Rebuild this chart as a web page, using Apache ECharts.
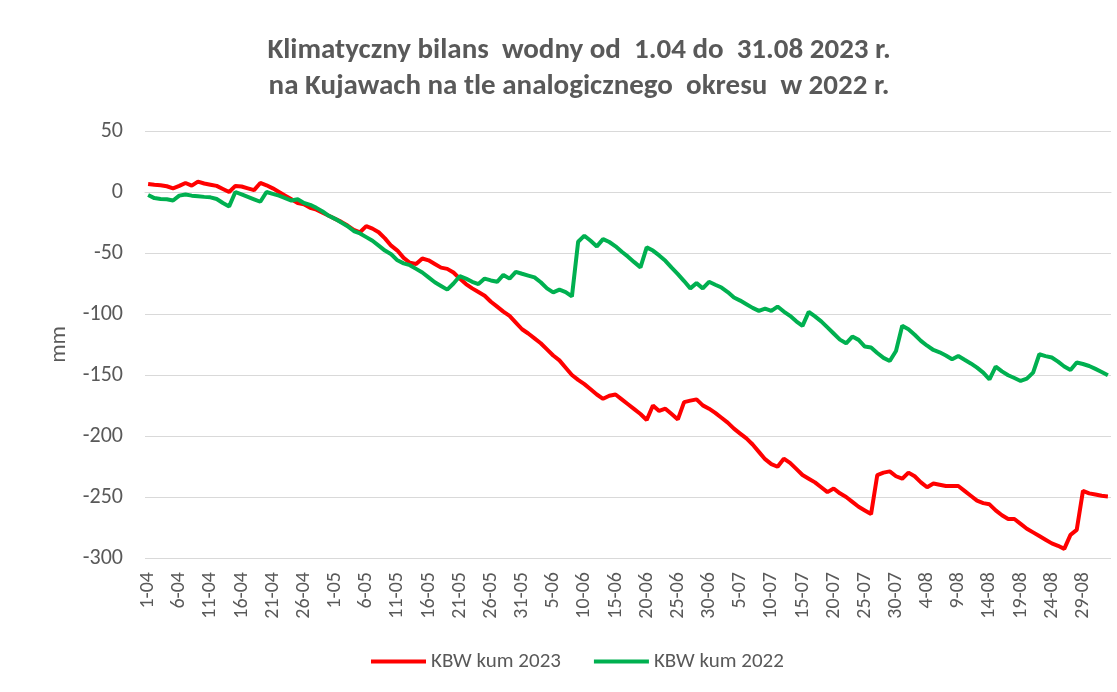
<!DOCTYPE html>
<html>
<head>
<meta charset="utf-8">
<script src="https://cdn.jsdelivr.net/npm/echarts@6/dist/echarts.min.js"></script>
<style>
html,body{margin:0;padding:0;background:#fff;}
#chart{width:1117px;height:692px;}
</style>
</head>
<body>
<div id="chart"></div>
<script>
// Categories: daily dates starting 1-04
const monthDays = [[4,30],[5,31],[6,30],[7,31],[8,31],[9,2]];
const categories = [];
for (const [m, n] of monthDays) {
  for (let d = 1; d <= n; d++) categories.push(d + '-' + (m < 10 ? '0' + m : m));
}

const kbw2023 = [
  6.6, 6, 5.5, 4.7, 3, 5, 7.4, 5.2, 8.5, 7,
  6, 5, 2.5, 0, 5, 4.5, 3, 1.5, 7.4, 5.5,
  3, 0, -3, -6, -9, -10, -13, -14.5, -17, -19.5,
  -22, -24.5, -27.5, -31, -33, -28, -30, -33, -38, -44,
  -48, -54, -58, -59, -54.5, -56, -59, -62, -63, -66,
  -71, -75.5, -79, -82, -85, -90, -94, -98, -101.5, -107,
  -112.5, -116, -120, -124, -129, -134, -138, -144, -150, -154,
  -157.5, -161.7, -166, -169.5, -167, -166, -170, -174, -178, -182,
  -186.9, -175, -179.5, -177.6, -182, -186.4, -172.2, -171, -170, -174.9,
  -177.6, -181, -185, -189, -194, -198, -202, -207, -213, -219,
  -223, -225.2, -218.6, -222, -227, -232, -235, -238, -242, -246,
  -243, -247, -250, -254, -258, -261, -264, -232, -230, -229,
  -233, -235, -230, -233, -238, -242, -239, -240, -241, -241,
  -241, -245, -249, -253, -255, -256, -261, -265, -268, -268,
  -272, -276, -279, -282, -285, -288, -290, -292.5, -281, -277,
  -245, -247, -248, -249, -249.5
];

const kbw2022 = [
  -2.5, -5, -5.7, -6, -7, -3, -2, -3, -3.5, -4,
  -4.4, -5.7, -9, -11.8, 0, -2, -4, -6, -8, 0,
  -1.5, -3, -5, -7, -6, -9, -10.5, -13, -16, -19.5,
  -22, -25, -28, -32, -34, -37, -40, -44, -48, -51,
  -56, -58.5, -60, -63, -66, -70, -74, -77, -80, -75,
  -69, -71, -73.6, -75.5, -71, -72.5, -73.6, -68, -71, -65.4,
  -67, -68.5, -70, -74, -79, -82.3, -80, -82, -85.6, -40.8,
  -35.8, -40, -44.6, -38.6, -41, -44.5, -49, -53, -57.5, -61.8,
  -45.4, -48, -52, -56.4, -62, -67.3, -73, -79, -74.7, -79,
  -73.6, -76, -78.3, -82, -86.5, -89, -92, -95, -97.4, -95.5,
  -97.4, -93.9, -98, -101.5, -106, -109.7, -98.3, -102, -106, -111,
  -116, -121, -124, -118.5, -121.2, -126.7, -127.5, -132, -136, -138.5,
  -130.3, -109.7, -112.5, -117, -122, -126, -129.5, -131.4, -134, -137.1,
  -134.4, -137.5, -140.5, -144, -148, -153.5, -143.1, -147, -150.2, -152.5,
  -154.9, -153, -148, -133, -134.5, -135.7, -139, -143, -145.9, -139.8,
  -141, -142.6, -145, -147.5, -150.2
];

const yTicks = { min: -300, max: 50, interval: 50 };
const titleLines = ['Klimatyczny bilans  wodny od  1.04 do  31.08 2023 r.', 'na Kujawach na tle analogicznego  okresu  w 2022 r.'];
const seriesNames = ['KBW kum 2023', 'KBW kum 2022'];

const FONT = 'Carlito, Lato, "Liberation Sans Narrow", sans-serif';
const chart = echarts.init(document.getElementById('chart'));
chart.setOption({
  backgroundColor: '#fff',
  animation: false,
  title: {
    text: titleLines.join('\n'),
    left: 574,
    textAlign: 'center',
    top: 28,
    textStyle: { fontFamily: FONT, fontWeight: 'bold', fontSize: 29, color: '#595959', lineHeight: 36 }
  },
  grid: { left: 145, right: 6, top: 131, bottom: 134, containLabel: false },
  legend: {
    bottom: 15,
    left: 366,
    itemGap: 33,
    itemWidth: 55,
    itemHeight: 4,
    icon: 'rect',
    textStyle: { fontFamily: FONT, fontSize: 21, color: '#595959' },
    data: seriesNames
  },
  xAxis: {
    type: 'category',
    data: categories,
    boundaryGap: true,
    axisLine: { show: true, lineStyle: { color: '#d9d9d9' } },
    axisTick: { show: false },
    axisLabel: {
      interval: 4,
      rotate: 90,
      fontFamily: FONT,
      fontSize: 20,
      color: '#595959',
      margin: 14
    }
  },
  yAxis: {
    type: 'value',
    min: yTicks.min,
    max: yTicks.max,
    interval: yTicks.interval,
    name: 'mm',
    nameLocation: 'middle',
    nameGap: 74,
    nameRotate: 90,
    nameTextStyle: { fontFamily: FONT, fontSize: 23, color: '#595959' },
    axisLine: { show: false },
    axisTick: { show: false },
    axisLabel: { fontFamily: FONT, fontSize: 22, color: '#595959', margin: 22 },
    splitLine: { lineStyle: { color: '#d9d9d9', width: 1 } }
  },
  series: [
    {
      name: seriesNames[0], type: 'line', data: kbw2023, symbol: 'none',
      lineStyle: { color: '#FF0000', width: 4 }, itemStyle: { color: '#FF0000' }
    },
    {
      name: seriesNames[1], type: 'line', data: kbw2022, symbol: 'none',
      lineStyle: { color: '#00B050', width: 4 }, itemStyle: { color: '#00B050' }
    }
  ]
});
</script>
</body>
</html>
